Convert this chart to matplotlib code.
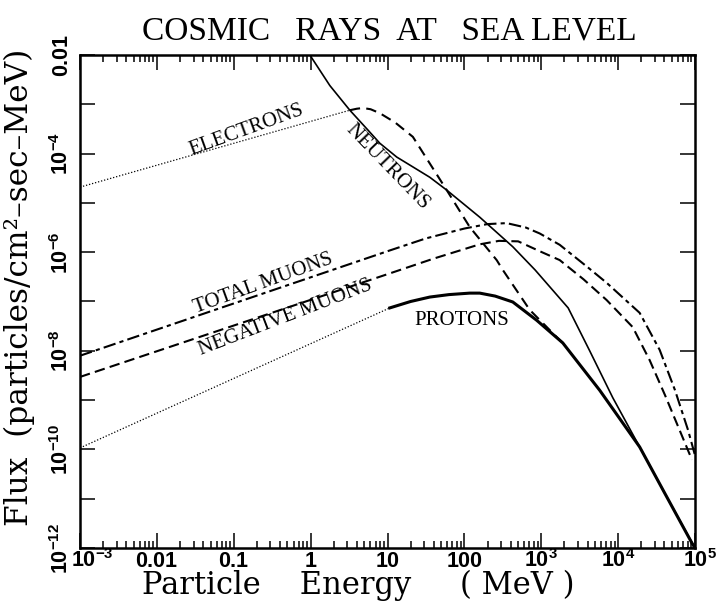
"""
Cosmic rays at sea level - flux vs particle energy (log-log).
"""

import numpy as np
import matplotlib
matplotlib.use('Agg')
import matplotlib.pyplot as plt
from matplotlib.transforms import ScaledTranslation

# ---- data (log10 of energy in MeV, log10 of flux) ----
electron_dot_logE = [-3.0, 0.51]
electron_dot_logF = [-4.68, -3.12]
electron_dash_logE = [0.51, 0.6, 0.68, 0.78, 0.9, 1.1, 1.33, 1.55, 1.77, 2.07, 2.42, 2.5, 2.85, 3.2, 3.28]
electron_dash_logF = [-3.12, -3.09, -3.075, -3.1, -3.18, -3.37, -3.66, -4.2, -4.74, -5.49, -6.16, -6.36, -7.17, -7.72, -7.84]

neutron_logE = [-0.01, 0.25, 0.51, 0.75, 0.9, 1.12, 1.33, 1.55, 1.77, 2.2, 2.63, 2.92,
                3.35, 3.63, 3.93, 4.28, 4.6, 5.0]
neutron_logF = [-2.0, -2.62, -3.12, -3.53, -3.79, -4.07, -4.27, -4.48, -4.74, -5.29, -5.89, -6.36,
                -7.13, -8.0, -8.95, -9.95, -10.87, -12.0]

proton_dot_logE = [-3.0, 1.03]
proton_dot_logF = [-9.97, -7.13]
proton_logE = [1.03, 1.3, 1.55, 1.8, 2.07, 2.2, 2.4, 2.63, 2.94, 3.28, 3.52, 3.76, 4.0, 4.28, 4.6, 4.96, 5.0]
proton_logF = [-7.13, -7.0, -6.91, -6.86, -6.83, -6.83, -6.89, -7.01, -7.38, -7.84, -8.32, -8.80,
               -9.33, -9.95, -10.87, -11.9, -12.0]

total_mu_logE = [-3.0, -2.0, -1.0, 0.0, 1.0, 1.5, 2.0, 2.3, 2.55, 2.8, 2.98, 3.24, 3.6, 3.85,
                 4.28, 4.54, 4.74, 4.91, 5.0]
total_mu_logF = [-8.1, -7.57, -7.04, -6.51, -5.98, -5.72, -5.52, -5.43, -5.41, -5.5, -5.62, -5.85,
                 -6.3, -6.62, -7.23, -7.98, -8.8, -9.61, -10.12]

neg_mu_logE = [-3.0, 1.03, 1.6, 2.2, 2.45, 2.7, 2.98, 3.24, 3.55, 3.85, 4.19, 4.41, 4.61, 4.8, 4.96]
neg_mu_logF = [-8.53, -6.43, -6.13, -5.84, -5.77, -5.78, -5.98, -6.16, -6.55, -6.97, -7.52, -8.19,
               -8.9, -9.61, -10.21]

x_ticks = [1e-3, 1e-2, 1e-1, 1e0, 1e1, 1e2, 1e3, 1e4, 1e5]
x_labels = [r'$\mathbf{10^{-3}}$', r'$\mathbf{0.01}$', r'$\mathbf{0.1}$', r'$\mathbf{1}$',
            r'$\mathbf{10}$', r'$\mathbf{100}$', r'$\mathbf{10^{3}}$', r'$\mathbf{10^{4}}$',
            r'$\mathbf{10^{5}}$']
y_ticks = [1e-12, 1e-11, 1e-10, 1e-9, 1e-8, 1e-7, 1e-6, 1e-5, 1e-4, 1e-3, 1e-2]
y_labels = [r'$\mathbf{10^{-12}}$', '', r'$\mathbf{10^{-10}}$', '', r'$\mathbf{10^{-8}}$', '',
            r'$\mathbf{10^{-6}}$', '', r'$\mathbf{10^{-4}}$', '', r'$\mathbf{0.01}$']

plt.rcParams['mathtext.fontset'] = 'custom'
plt.rcParams['mathtext.bf'] = 'Liberation Sans:bold'
plt.rcParams['mathtext.rm'] = 'Liberation Sans'


def p(vals):
    return 10.0 ** np.asarray(vals)


fig = plt.figure(figsize=(7.16, 6.11), dpi=100)
ax = fig.add_axes([80 / 716, 63 / 611, 615 / 716, 493 / 611])

k = 'black'
# electrons
ax.plot(p(electron_dot_logE), p(electron_dot_logF), color=k, lw=0.9, linestyle=(0, (1, 1.5)))
ax.plot(p(electron_dash_logE), p(electron_dash_logF), color=k, lw=1.5, dashes=(5, 3))
# neutrons
ax.plot(p(neutron_logE), p(neutron_logF), color=k, lw=1.2)
# protons
ax.plot(p(proton_dot_logE), p(proton_dot_logF), color=k, lw=0.9, linestyle=(0, (1, 1.5)))
ax.plot(p(proton_logE), p(proton_logF), color=k, lw=2.2)
# muons
ax.plot(p(total_mu_logE), p(total_mu_logF), color=k, lw=1.5, dashes=(6, 2, 2, 2))
ax.plot(p(neg_mu_logE), p(neg_mu_logF), color=k, lw=1.5, dashes=(5, 2.5))

ax.set_xscale('log')
ax.set_yscale('log')
ax.set_xlim(1e-3, 1e5)
ax.set_ylim(1e-12, 1e-2)

# curve labels
lab = dict(family='Liberation Serif', fontsize=15, ha='center', va='center',
           rotation_mode='anchor')
ax.text(10 ** -0.84, 10 ** -3.52, 'ELECTRONS', rotation=20, **lab)
ax.text(10 ** 1.0, 10 ** -4.27, 'NEUTRONS', rotation=-46, **lab)
ax.text(10 ** -0.62, 10 ** -6.64, 'TOTAL MUONS', rotation=20, **lab)
ax.text(10 ** -0.33, 10 ** -7.33, 'NEGATIVE MUONS', rotation=21, **lab)
ax.text(10 ** 1.97, 10 ** -7.38, 'PROTONS', **lab)

# axes frame and ticks
for s in ax.spines.values():
    s.set_linewidth(1.8)
ax.tick_params(which='both', direction='in', top=True, right=True, width=1.1)
ax.tick_params(axis='x', which='major', length=11, pad=14)
ax.tick_params(axis='x', which='minor', length=5)
ax.tick_params(axis='y', which='major', length=11, pad=6)
ax.yaxis.set_minor_locator(matplotlib.ticker.NullLocator())
ax.xaxis.set_minor_locator(matplotlib.ticker.LogLocator(base=10, subs=np.arange(2, 10), numticks=20))
ax.set_xticks(x_ticks, x_labels, fontsize=15.5, va='baseline')
ax.set_yticks(y_ticks, y_labels, fontsize=15.5, rotation=90, va='center', ha='right')

# end labels are nudged inwards/outwards as in the original
first = ax.get_xticklabels()[0]
first.set_transform(first.get_transform() + ScaledTranslation(12 / 100, 0, fig.dpi_scale_trans))
last = ax.get_xticklabels()[-1]
last.set_transform(last.get_transform() + ScaledTranslation(5 / 100, 0, fig.dpi_scale_trans))

# titles
fig.text(389 / 716, 1 - 40 / 611, 'COSMIC   RAYS  AT   SEA LEVEL', family='Liberation Serif',
         fontsize=24, ha='center', va='baseline')
fig.text(142 / 716, 1 - 594 / 611, 'Particle    Energy     ( MeV )', family='DejaVu Serif',
         fontsize=22, ha='left', va='baseline')
fig.text(19 / 716, 1 - 287 / 611, 'Flux  (particles/cm²–sec–MeV)', family='DejaVu Serif',
         fontsize=22.5, ha='center', va='center', rotation=90)

fig.savefig('out.png', dpi=100)
